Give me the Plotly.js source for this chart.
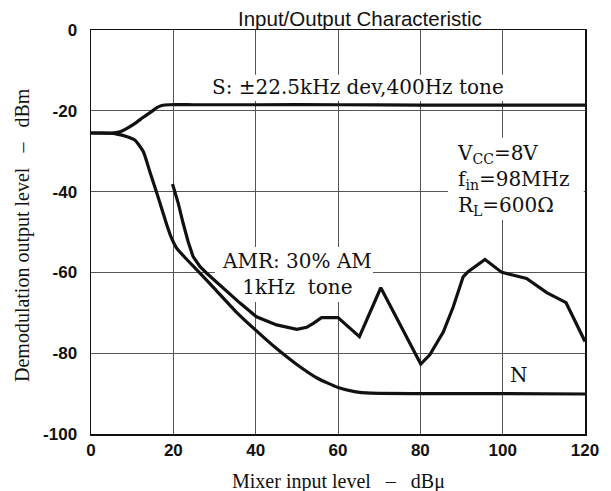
<!DOCTYPE html>
<html>
<head>
<meta charset="utf-8">
<script src="https://cdn.plot.ly/plotly-3.0.1.min.js"></script>
<style>html,body{margin:0;padding:0;background:#fff;}#chart{width:611px;height:491px;}</style>
</head>
<body>
<div id="chart"></div>
<script>
// S: ±22.5kHz dev, 400Hz tone
const sX = [0, 5, 7, 8.3, 10.7, 12.7, 14.7, 16, 17.2, 19, 25, 40, 60, 80, 100, 120];
const sY = [-25.5, -25.5, -25.2, -24.6, -23.1, -21.6, -20.2, -19.2, -18.7, -18.5, -18.5, -18.5, -18.5, -18.6, -18.6, -18.6];

// N: noise
const nX = [0, 3, 6, 9, 10.7, 12.7, 14.3, 16, 17.3, 18.5, 19.6, 20.8, 23, 26, 30, 35, 40, 45, 50, 55, 60, 64, 68, 80, 100, 120];
const nY = [-25.5, -25.5, -25.7, -26.5, -27.3, -30.1, -35.1, -40.4, -44.6, -48.5, -51.6, -54, -56.5, -59.7, -64, -69.5, -74.3, -78.8, -82.8, -86.2, -88.5, -89.5, -89.9, -90, -90, -90.1];

// AMR: 30% AM, 1kHz tone
const aX = [19.8, 21.2, 22.4, 23.6, 24.8, 26.5, 28.1, 32.1, 36.2, 40.2, 45.1, 50, 52.4, 54, 56, 60, 65.2, 70.4, 80.1, 82.3, 85.6, 88, 90.4, 91.6, 95.7, 99.8, 105.8, 110.7, 115.4, 120];
const aY = [-38.1, -42.9, -47.9, -52.4, -56.1, -58.6, -60.2, -63.9, -67.6, -71, -73, -74.1, -73.6, -72.6, -71.2, -71.2, -75.9, -63.8, -82.7, -80.4, -74.7, -68.5, -61.1, -59.8, -56.8, -60, -61.5, -65, -67.5, -77.1];

const xTicks = [0, 20, 40, 60, 80, 100, 120];
const xTickText = ["0", "20", "40", "60", "80", "100", "120"];
const yTicks = [0, -20, -40, -60, -80, -100];
const yTickText = ["0", "-20", "-40", "-60", "-80", "-100"];

const lineStyle = {color: '#111', width: 3.2};
const traces = [
  {x: sX, y: sY, mode: 'lines', line: Object.assign({shape: 'spline', smoothing: 0.6}, lineStyle), hoverinfo: 'skip'},
  {x: nX, y: nY, mode: 'lines', line: Object.assign({shape: 'spline', smoothing: 0.5}, lineStyle), hoverinfo: 'skip'},
  {x: aX, y: aY, mode: 'lines', line: Object.assign({shape: 'linear'}, lineStyle), hoverinfo: 'skip'}
];

const serif = 'DejaVu Serif, serif';
const tickFont = {family: 'Liberation Sans, Arial, sans-serif', size: 17, color: '#111', weight: 'bold'};

// white masks that hide the grid behind the in-plot labels (curves stay on top)
function mask(x0, x1, y0, y1) {
  return {type: 'rect', xref: 'x', yref: 'y', x0: x0, x1: x1, y0: y0, y1: y1,
          fillcolor: '#fff', line: {width: 0}, layer: 'between'};
}

const layout = {
  width: 611, height: 491,
  margin: {l: 91, r: 26, t: 30, b: 57, pad: 0},
  paper_bgcolor: '#fff', plot_bgcolor: '#fff',
  showlegend: false,
  xaxis: {
    range: [0, 120], tickvals: xTicks, ticktext: xTickText,
    showgrid: true, gridcolor: '#555', gridwidth: 1,
    showline: true, linecolor: '#111', linewidth: 1.5, mirror: true,
    zeroline: false, ticks: '', ticklabelstandoff: 0,
    tickfont: tickFont, fixedrange: true
  },
  yaxis: {
    range: [-100, 0], tickvals: yTicks, ticktext: yTickText,
    showgrid: true, gridcolor: '#555', gridwidth: 1,
    showline: true, linecolor: '#111', linewidth: 1.5, mirror: true,
    zeroline: false, ticks: '', ticklabelstandoff: 9,
    tickfont: tickFont, fixedrange: true
  },
  shapes: [
    mask(28.9, 100.8, -11.1, -17.6),
    mask(86.7, 119.7, -26.7, -47),
    mask(30.1, 68.5, -53.7, -67.3)
  ],
  annotations: [
    {text: 'Input/Output Characteristic', xref: 'paper', yref: 'paper', x: 0.5, y: 1, xanchor: 'center', yanchor: 'middle',
     xshift: 22, yshift: 12, showarrow: false, font: {family: 'Liberation Sans, Arial, sans-serif', size: 20.5, color: '#111'}},
    {text: 'Mixer input level\u00a0\u00a0\u00a0–\u00a0\u00a0\u00a0dBμ', xref: 'paper', yref: 'paper', x: 0.5, y: 0, xanchor: 'center', yanchor: 'middle',
     yshift: -47, showarrow: false, font: {family: 'Liberation Serif, Times New Roman, serif', size: 20, color: '#111'}},
    {text: 'Demodulation output level\u00a0\u00a0\u00a0–\u00a0\u00a0\u00a0dBm', xref: 'paper', yref: 'paper', x: 0, y: 0.5, xanchor: 'center', yanchor: 'middle',
     xshift: -69, yshift: -3, textangle: -90, showarrow: false, font: {family: 'Liberation Serif, Times New Roman, serif', size: 20, color: '#111'}},
    {text: 'S: ±22.5kHz dev,400Hz tone', xref: 'x', yref: 'y', x: 64.9, y: -14.2, xanchor: 'center', yanchor: 'middle',
     showarrow: false, font: {family: serif, size: 20, color: '#111'}},
    {text: 'V<sub>CC</sub>=8V<br>f<sub>in</sub>=98MHz<br>R<sub>L</sub>=600Ω', xref: 'x', yref: 'y', x: 88.3, y: -37.2, xanchor: 'left', yanchor: 'middle',
     align: 'left', showarrow: false, font: {family: serif, size: 20, color: '#111'}},
    {text: 'AMR: 30% AM<br>1kHz\u00a0\u00a0tone', xref: 'x', yref: 'y', x: 50, y: -60.5, xanchor: 'center', yanchor: 'middle',
     align: 'center', showarrow: false, font: {family: serif, size: 20, color: '#111'}},
    {text: 'N', xref: 'x', yref: 'y', x: 104, y: -85.5, xanchor: 'center', yanchor: 'middle',
     showarrow: false, font: {family: serif, size: 20, color: '#111'}}
  ]
};

Plotly.newPlot('chart', traces, layout, {staticPlot: true, displayModeBar: false});
</script>
</body>
</html>
